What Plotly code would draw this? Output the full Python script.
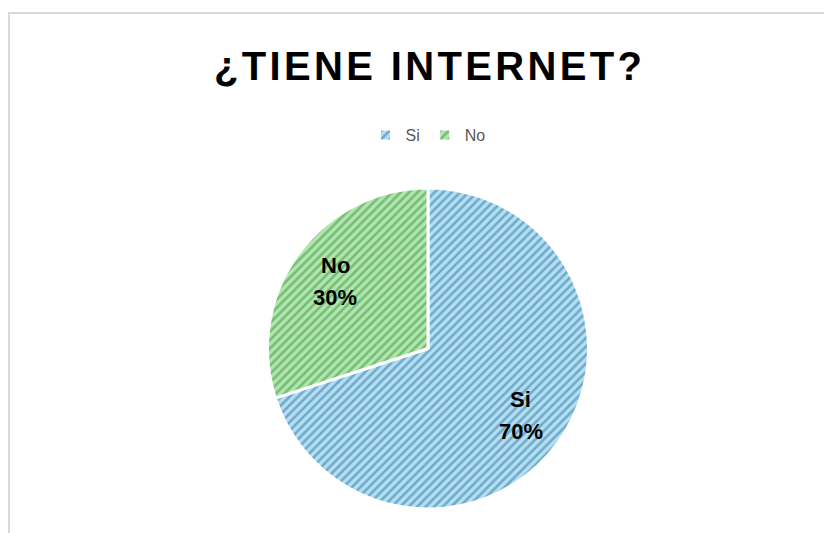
import math
import plotly.graph_objects as go

labels = ["Si", "No"]
values = [70, 30]
bg_colors = ["#b4dff3", "#b3e6ae"]
fg_colors = ["#2a74a0", "#35933f"]
title_text = "¿TIENE INTERNET?"

W, H = 832, 533
OFF = 8  # page body margin offset
cx, cy, R = 428 - OFF, 348.5 - OFF, 160.5

fig = go.Figure()
fig.add_trace(go.Pie(
    labels=labels,
    values=values,
    sort=False,
    direction="clockwise",
    rotation=0,
    textinfo="none",
    hoverinfo="skip",
    marker=dict(
        colors=bg_colors,
        line=dict(color="white", width=3),
        pattern=dict(shape="/", fgcolor=fg_colors, bgcolor=bg_colors,
                     size=6, solidity=0.43, fillmode="overlay"),
    ),
    domain=dict(x=[(cx - R) / W, (cx + R) / W],
                y=[(H - cy - R) / H, (H - cy + R) / H]),
))

total = sum(values)
cum = 0
annotations = []
for lab, v in zip(labels, values):
    theta = 2 * math.pi * (cum + v / 2) / total
    cum += v
    r = 0.715 * R
    px = (cx + r * math.sin(theta)) / W
    py = (H - cy + r * math.cos(theta)) / H
    pct = f"{round(v / total * 100)}%"
    for txt, ys in ((lab, 16), (pct, -16)):
        annotations.append(dict(
            x=px, y=py, xref="paper", yref="paper", text=txt,
            xanchor="center", yanchor="middle",
            showarrow=False, yshift=ys,
            font=dict(family="Liberation Sans", size=22, color="black", weight="bold"),
        ))

spaced_title = "\u200a".join(title_text)

fig.update_layout(
    width=W, height=H,
    margin=dict(l=0, r=0, t=0, b=0),
    paper_bgcolor="white",
    title=dict(text=spaced_title, x=(428 - OFF) / W, xanchor="center",
               y=1 - (66 - OFF) / H, yanchor="middle", yref="container",
               font=dict(family="Liberation Sans", size=40, color="black", weight="bold")),
    showlegend=True,
    legend=dict(orientation="h", x=(428 - OFF) / W, xanchor="center",
                y=1 - (135 - OFF) / H, yanchor="middle",
                font=dict(family="Liberation Sans", size=16, color="#595959"),
                itemwidth=30,
                itemclick=False, itemdoubleclick=False),
    annotations=annotations,
    shapes=[dict(type="rect", xref="paper", yref="paper",
                 x0=1 / W, x1=1.05, y0=-0.05, y1=1 - (13 - OFF) / H,
                 line=dict(color="#d9d9d9", width=2), fillcolor="rgba(0,0,0,0)",
                 layer="below")],
)

fig.write_html("out.html")
